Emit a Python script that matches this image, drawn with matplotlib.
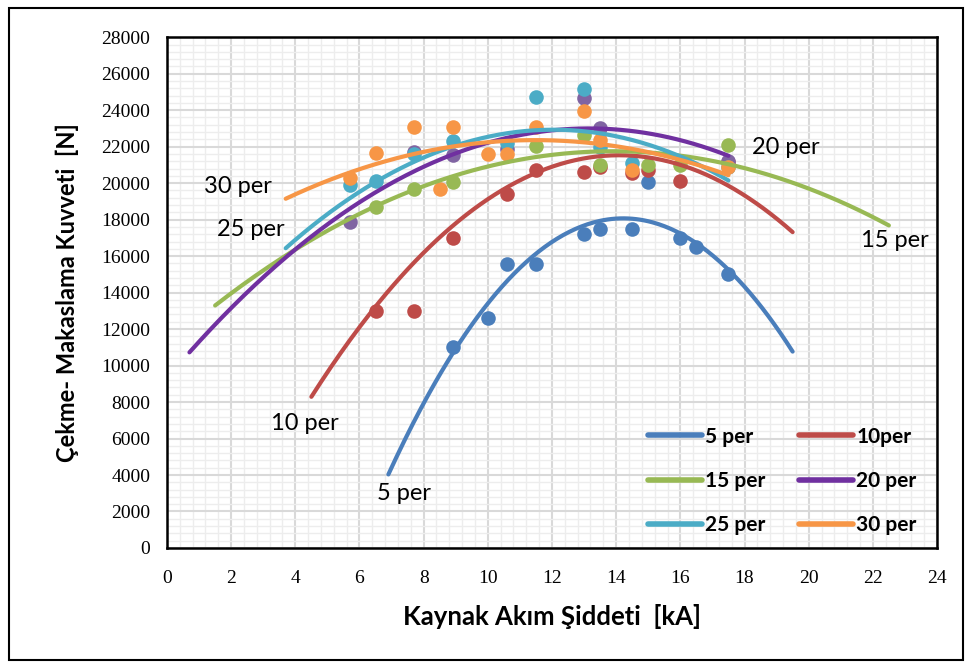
import numpy as np
import matplotlib
matplotlib.use("Agg")
import matplotlib.pyplot as plt
from matplotlib.patches import Rectangle
from matplotlib.lines import Line2D
from matplotlib.ticker import MultipleLocator

# measured shear-tension force vs welding current, one series per "per" setting
blue_x = [8.9, 10.0, 10.6, 11.5, 13.0, 13.5, 14.5, 15.0, 16.0, 16.5, 17.5]
blue_y = [11000, 12600, 15560, 15560, 17200, 17500, 17500, 20050, 17000, 16500, 15000]

red_x = [6.5, 7.7, 8.9, 10.6, 11.5, 13.0, 13.5, 14.5, 15.0, 16.0, 17.5]
red_y = [13000, 13000, 17000, 19400, 20700, 20600, 20900, 20550, 20700, 20100, 21150]

green_x = [6.5, 7.7, 8.9, 11.5, 13.0, 13.5, 15.0, 16.0, 17.5]
green_y = [18700, 19700, 20050, 22030, 22650, 21000, 21000, 21000, 22080]

purple_x = [5.7, 7.7, 8.9, 10.6, 13.0, 13.5, 17.5]
purple_y = [17860, 21700, 21530, 21900, 24680, 23000, 21200]

teal_x = [5.7, 6.5, 7.7, 8.9, 10.6, 11.5, 13.0, 13.5, 14.5, 17.5]
teal_y = [19900, 20100, 21600, 22300, 22200, 24740, 25150, 22000, 21100, 20900]

orange_x = [5.7, 6.5, 7.7, 8.5, 8.9, 10.0, 10.6, 11.5, 13.0, 13.5, 14.5, 17.5]
orange_y = [20270, 21640, 23070, 19670, 23070, 21590, 21590, 23070, 23950, 22350, 20700, 20900]

names = ["5 per", "10per", "15 per", "20 per", "25 per", "30 per"]
xs = [blue_x, red_x, green_x, purple_x, teal_x, orange_x]
ys = [blue_y, red_y, green_y, purple_y, teal_y, orange_y]

# 2nd order trendlines: top point (kA, N) and bend (N per kA^2)
trend_top_x = [14.22, 14.09, 13.9, 13.15, 12.04, 11.48]
trend_top_y = [18070, 21530, 21750, 23000, 22930, 22360]
trend_bend = [-262, -144, -55, -79.2, -93.4, -53.1]
# trendline forecast (backward, forward) in kA
forecast = [(2, 2), (2, 2), (5, 5), (5, 0), (2, 0), (2, 0)]

line_colors = ["#4A7EBB", "#BE4B48", "#98B954", "#7030A0", "#4BACC6", "#F79646"]
marker_colors = ["#4A7EBB", "#BE4B48", "#98B954", "#8064A2", "#4BACC6", "#F79646"]

# curve labels placed next to each trendline
label_text = ["5 per", "10 per", "15 per", "20 per", "25 per", "30 per"]
label_x = [7.4, 4.3, 22.7, 19.3, 2.6, 2.2]
label_y = [2960, 6800, 16880, 21970, 17480, 19835]

fig = plt.figure(figsize=(9.72, 6.65), dpi=100)
fig.patches.append(Rectangle((0.009, 0.007), 0.982, 0.981, transform=fig.transFigure,
                             fill=False, edgecolor="black", linewidth=1.5))
ax = fig.add_axes([0.1718, 0.176, 0.7922, 0.768])

for i in range(6):
    ax.scatter(xs[i], ys[i], s=110, color=marker_colors[i], zorder=3, linewidths=0)
for i in range(6):
    x0 = min(xs[i]) - forecast[i][0]
    x1 = max(xs[i]) + forecast[i][1]
    xx = np.linspace(x0, x1, 200)
    yy = trend_top_y[i] + trend_bend[i] * (xx - trend_top_x[i]) ** 2
    ax.plot(xx, yy, color=line_colors[i], linewidth=3,
            solid_capstyle="round", zorder=4)

for t, lx, ly in zip(label_text, label_x, label_y):
    ax.text(lx, ly, t, fontsize=17, family="Lato", ha="center", va="center")

ax.set_xlim(0, 24)
ax.set_ylim(0, 28000)
ax.xaxis.set_major_locator(MultipleLocator(2))
ax.yaxis.set_major_locator(MultipleLocator(2000))
ax.xaxis.set_minor_locator(MultipleLocator(0.4))
ax.yaxis.set_minor_locator(MultipleLocator(400))
ax.grid(which="major", color="#D9D9D9", linewidth=1.5, zorder=0)
ax.grid(which="minor", color="#EDEDED", linewidth=1.0, zorder=0)
ax.set_axisbelow(True)
ax.tick_params(which="both", length=0)
ax.tick_params(axis="x", pad=16)
ax.tick_params(axis="y", pad=12)
for lab in ax.get_xticklabels() + ax.get_yticklabels():
    lab.set_family("Liberation Serif")
    lab.set_fontsize(14)
for sp in ax.spines.values():
    sp.set_linewidth(1.8)

ax.set_xlabel("Kaynak Akım Şiddeti  [kA]", fontsize=18.5, fontweight="bold",
              family="Lato", labelpad=12)
ax.set_ylabel("Çekme- Makaslama Kuvveti  [N]", fontsize=17, fontweight="bold",
              family="Lato", labelpad=16)

# legend shows lines only, filled row by row
order = [0, 2, 4, 1, 3, 5]
handles = [Line2D([], [], color=line_colors[i], linewidth=4, solid_capstyle="round") for i in order]
ax.legend(handles, [names[i] for i in order], ncol=2, loc="lower right",
          bbox_to_anchor=(0.99, 0.0), frameon=False, handlelength=2.6,
          columnspacing=1.6, labelspacing=1.17, handletextpad=0.15,
          borderaxespad=0.2,
          prop={"family": "Lato", "weight": "bold", "size": 15})

fig.savefig("out.png", dpi=100)
